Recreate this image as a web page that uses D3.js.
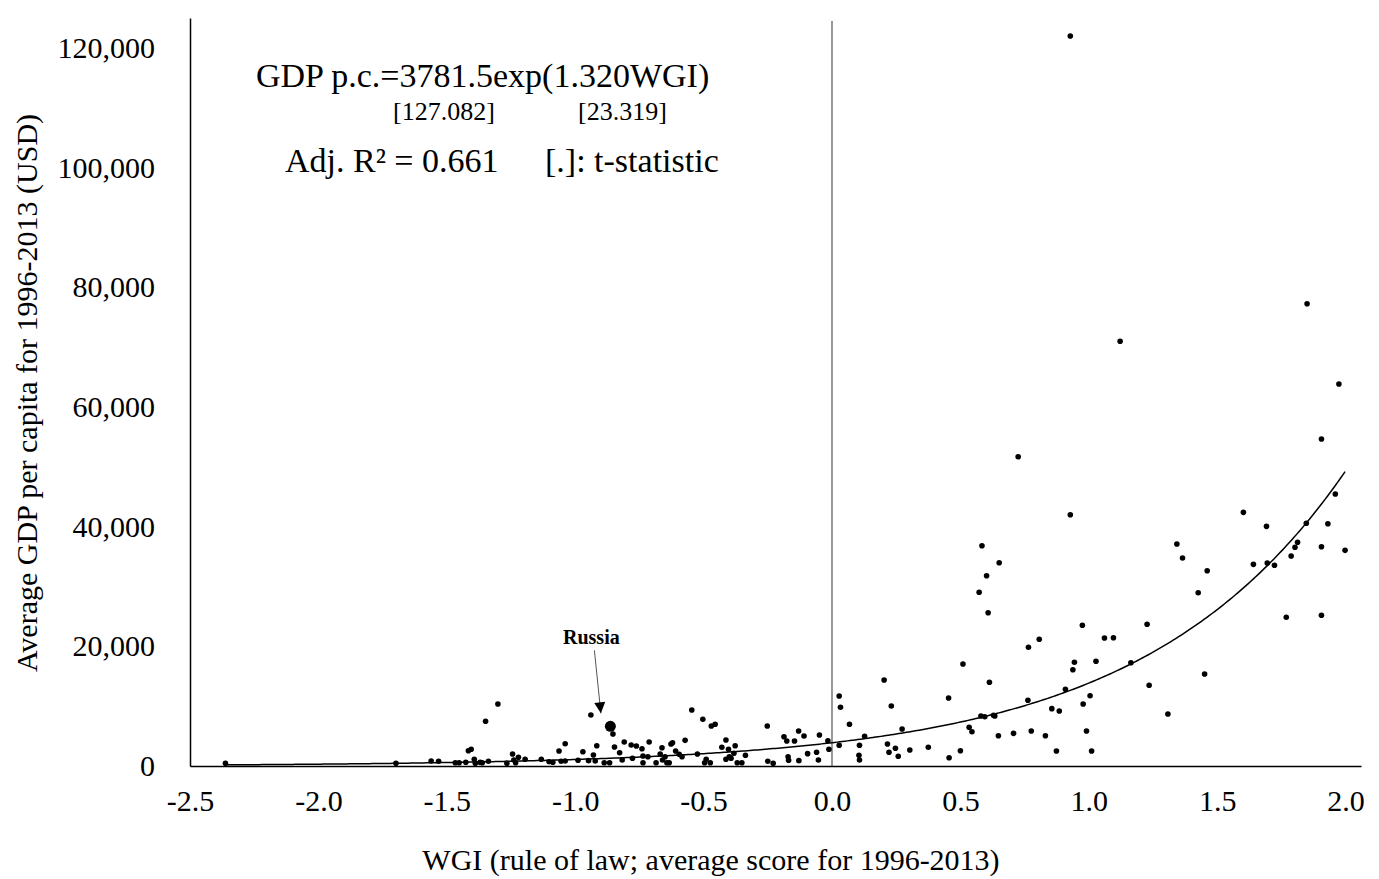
<!DOCTYPE html>
<html>
<head>
<meta charset="utf-8">
<script src="https://cdn.jsdelivr.net/npm/d3@7/dist/d3.min.js"></script>
<style>
  body { margin: 0; background: #fff; }
  svg { display: block; font-family: "Liberation Serif", "Times New Roman", serif; }
</style>
</head>
<body>
<div id="chart"></div>
<script>
// WGI (rule of law) average score per country, 1996-2013
const wgi = [
  -2.362, -1.698, -1.561, -1.532, -1.467, -1.452, -1.426, -1.416, -1.405, -1.393,
  -1.389, -1.370, -1.362, -1.338, -1.349, -1.301, -1.266, -1.244, -1.239, -1.232,
  -1.221, -1.195, -1.132, -1.102, -1.087, -1.063, -1.055, -1.039, -1.039, -0.989,
  -0.970, -0.948, -0.939, -0.929, -0.922, -0.916,
  -0.887, -0.866, -0.853, -0.847, -0.827, -0.817, -0.809, -0.782, -0.777, -0.762,
  -0.740, -0.736, -0.736, -0.717, -0.712, -0.685, -0.669, -0.662, -0.660, -0.650,
  -0.643, -0.634, -0.627, -0.621, -0.609, -0.595, -0.584, -0.572, -0.546, -0.524,
  -0.503, -0.496, -0.490, -0.474, -0.470, -0.455, -0.429, -0.413, -0.413, -0.403,
  -0.400, -0.393, -0.382, -0.377, -0.369, -0.351, -0.337, -0.252, -0.250, -0.229,
  -0.187, -0.176, -0.171, -0.169, -0.146, -0.130, -0.129, -0.109, -0.095, -0.060,
  -0.053, -0.049, -0.016, -0.012,
  0.028, 0.033, 0.028, 0.068, 0.107, 0.105, 0.107, 0.127, 0.203, 0.231,
  0.216, 0.222, 0.247, 0.258, 0.273, 0.303, 0.375, 0.454, 0.456, 0.500,
  0.510, 0.534, 0.545, 0.580, 0.595, 0.608, 0.613, 0.629, 0.634, 0.648,
  0.707, 0.763, 0.765, 0.776, 0.807, 0.831, 0.856, 0.874, 0.885,
  0.584, 0.651, 0.602, 0.573,
  0.909, 0.938, 0.944, 0.975, 0.978, 0.991, 1.005, 1.011, 1.028, 1.061,
  1.096, 1.164, 1.227, 1.235, 1.308, 1.451, 1.769, 1.906,
  0.725, 0.928, 1.122, 1.343, 1.365, 1.426, 1.461, 1.602, 1.641, 1.692,
  1.695, 1.723, 1.788, 1.803, 1.813, 1.847, 1.850, 1.906, 1.906, 1.931,
  1.960, 1.974, 1.998,
  0.928
];

// average GDP per capita (USD), same order as wgi
const gdp = [
  450, 450, 840, 790, 550, 550, 620, 2560, 2790, 1120,
  450, 620, 550, 790, 7470, 10360, 450, 2010, 1000, 550,
  1450, 1120, 1120, 720, 620, 2510, 790, 3730, 840, 950,
  2390, 890, 8520, 1840, 840, 3390,
  550, 550, 5350, 3180, 2220, 1000, 4010, 3510, 1290, 3340,
  2890, 1670, 550, 1550, 4010, 550, 2010, 3060, 1000, 1550,
  550, 550, 3680, 3890, 2510, 1960, 1550, 4290, 9360, 2010,
  7800, 550, 1120, 550, 6680, 6970, 3130, 4350, 1120, 2790,
  1550, 1290, 2120, 3390, 550, 550, 1790, 6680, 790, 450,
  4900, 4180, 1550, 950, 4180, 5850, 890, 5010, 2060, 2290,
  1000, 5180, 4230, 2790,
  11700, 9810, 3460, 6970, 3460, 1790, 1000, 4960, 14370, 10030,
  3680, 2290, 2960, 1620, 6180, 2670, 3130, 11360, 1390, 2560,
  17040, 6470, 5730, 8360, 8240, 25620, 13990, 8470, 8360, 5060,
  5460, 10980, 19840, 5850, 21170, 5060, 9580, 2510, 9190,
  36810, 33970, 31800, 29030,
  12820, 16090, 17330, 23510, 10360, 5850, 11750, 2510, 17500, 21390,
  21440, 17260, 23680, 13490, 8690, 15370, 24850, 25180,
  51680, 41990, 70970, 37100, 34760, 28960, 32640, 42390, 33700, 40050,
  33920, 33540, 35090, 36550, 37380, 40560, 77250, 54640, 36650, 40490,
  45450, 63830, 36040,
  121980
];

// highlighted country
const russia = { name: 'Russia', wgi: -0.863, gdp: 6630 };

// trend line as it is drawn in the picture: GDP = a * exp(b * WGI)
const trendA = 3890;
const trendB = 1.27;
const trendRange = [-2.36, 1.998];

// axis ticks
const xTicks = [-2.5, -2.0, -1.5, -1.0, -0.5, 0.0, 0.5, 1.0, 1.5, 2.0];
const yTicks = [0, 20000, 40000, 60000, 80000, 100000, 120000];

const xTitle = 'WGI (rule of law; average score for 1996-2013)';
const yTitle = 'Average GDP per capita for 1996-2013 (USD)';

const width = 1379;
const height = 879;

const svg = d3.select('#chart')
  .append('svg')
  .attr('width', width)
  .attr('height', height);

svg.append('rect').attr('width', width).attr('height', height).attr('fill', '#fff');

// scales
const x = d3.scaleLinear().domain([-2.5, 2.06]).range([190, 1361]);
const y = d3.scaleLinear().domain([0, 125000]).range([766, 18]);

// vertical line at WGI = 0
svg.append('line')
  .attr('x1', x(0)).attr('x2', x(0))
  .attr('y1', y(124500)).attr('y2', y(0))
  .attr('stroke', '#777')
  .attr('stroke-width', 1.5);

// axes
const xAxis = d3.axisBottom(x)
  .tickValues(xTicks)
  .tickFormat(d => d.toFixed(1))
  .tickSize(0)
  .tickSizeOuter(0)
  .tickPadding(24);

const yAxis = d3.axisLeft(y)
  .tickValues(yTicks)
  .tickFormat(d3.format(','))
  .tickSize(0)
  .tickSizeOuter(0)
  .tickPadding(35);

svg.append('g')
  .attr('transform', `translate(0,${y(0)})`)
  .call(xAxis)
  .call(g => g.select('.domain').attr('stroke', '#000').attr('stroke-width', 1.5))
  .call(g => g.selectAll('text')
    .attr('font-family', '"Liberation Serif", serif')
    .attr('font-size', 30)
    .attr('fill', '#000'));

svg.append('g')
  .attr('transform', `translate(${x(-2.5)},0)`)
  .call(yAxis)
  .call(g => g.select('.domain').attr('stroke', '#000').attr('stroke-width', 1.5))
  .call(g => g.selectAll('text')
    .attr('font-family', '"Liberation Serif", serif')
    .attr('font-size', 30)
    .attr('fill', '#000'));

// axis titles
svg.append('text')
  .attr('x', 711)
  .attr('y', 870)
  .attr('text-anchor', 'middle')
  .attr('font-size', 30)
  .text(xTitle);

svg.append('text')
  .attr('transform', 'translate(37,393) rotate(-90)')
  .attr('text-anchor', 'middle')
  .attr('font-size', 30)
  .text(yTitle);

// trend curve
const trendX = d3.range(trendRange[0], trendRange[1], 0.01).concat([trendRange[1]]);
const line = d3.line()
  .x(d => x(d))
  .y(d => y(trendA * Math.exp(trendB * d)));

svg.append('path')
  .datum(trendX)
  .attr('d', line)
  .attr('fill', 'none')
  .attr('stroke', '#000')
  .attr('stroke-width', 1.5);

// scatter points
const points = wgi.map((w, i) => ({ wgi: w, gdp: gdp[i] }));

svg.append('g')
  .selectAll('circle')
  .data(points)
  .enter()
  .append('circle')
  .attr('cx', d => x(d.wgi))
  .attr('cy', d => y(d.gdp))
  .attr('r', 2.8)
  .attr('fill', '#000');

// Russia: bigger dot, label and arrow
const rx = x(russia.wgi);
const ry = y(russia.gdp);

svg.append('circle')
  .attr('cx', rx)
  .attr('cy', ry)
  .attr('r', 5.5)
  .attr('fill', '#000');

svg.append('defs')
  .append('marker')
  .attr('id', 'arrow')
  .attr('viewBox', '0 0 10 10')
  .attr('refX', 10)
  .attr('refY', 5)
  .attr('markerUnits', 'userSpaceOnUse')
  .attr('markerWidth', 12)
  .attr('markerHeight', 11)
  .attr('orient', 'auto')
  .append('path')
  .attr('d', 'M0,0 L10,5 L0,10 Z')
  .attr('fill', '#000');

svg.append('line')
  .attr('x1', rx - 16).attr('y1', ry - 76)
  .attr('x2', rx - 9.5).attr('y2', ry - 13)
  .attr('stroke', '#555')
  .attr('stroke-width', 1)
  .attr('marker-end', 'url(#arrow)');

svg.append('text')
  .attr('x', rx - 19)
  .attr('y', ry - 82)
  .attr('text-anchor', 'middle')
  .attr('font-size', 20)
  .attr('font-weight', 'bold')
  .text(russia.name);

// equation block
const eq = svg.append('g').attr('fill', '#000');

eq.append('text')
  .attr('x', 256).attr('y', 87)
  .attr('font-size', 34)
  .text('GDP p.c.=3781.5exp(1.320WGI)');

eq.append('text')
  .attr('x', 393).attr('y', 120)
  .attr('font-size', 26)
  .text('[127.082]');

eq.append('text')
  .attr('x', 578).attr('y', 120)
  .attr('font-size', 26)
  .text('[23.319]');

eq.append('text')
  .attr('x', 285).attr('y', 172)
  .attr('font-size', 34)
  .text('Adj. R\u00b2 = 0.661');

eq.append('text')
  .attr('x', 545).attr('y', 172)
  .attr('font-size', 34)
  .text('[.]: t-statistic');
</script>
</body>
</html>
